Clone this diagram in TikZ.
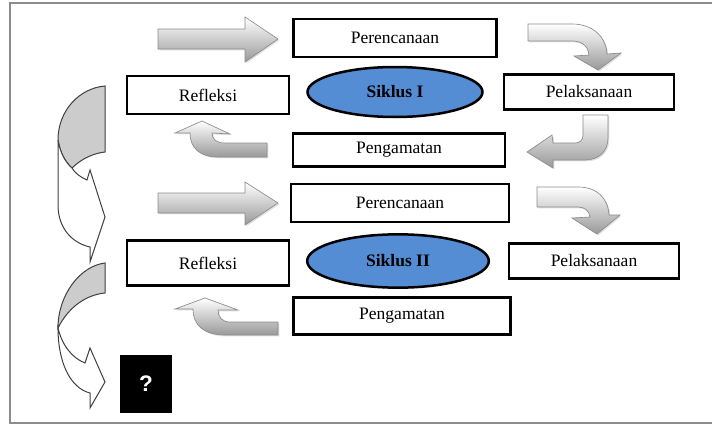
\documentclass[tikz,border=0pt]{standalone}
\usepackage{fontspec}
\setmainfont{Liberation Serif}
\newfontfamily\qfont{Liberation Sans}
\usepackage{tikz}
\usetikzlibrary{shapes.geometric,shadows}
\definecolor{sikblue}{RGB}{84,141,212}

\begin{document}
\begin{tikzpicture}[x=0.6pt,y=-0.6pt,
	box/.style={draw,line width=1.5pt,inner sep=0pt,font=\fontsize{10.5}{12}\selectfont},
	siklus/.style={ellipse,draw,line width=1.5pt,fill=sikblue,inner sep=0pt,font=\fontsize{10.5}{12}\selectfont\bfseries},
	blockarr/.style={top color=white,bottom color=black!40,draw=black!45,line width=0.4pt,
		drop shadow={opacity=0.25,shadow xshift=0.8pt,shadow yshift=-0.8pt}},
	backarr/.style={draw=black!75,line width=0.6pt,fill=black!20},
	frontarr/.style={draw=black!75,line width=0.6pt,fill=white}]
	\useasboundingbox (0,0) rectangle (712,425);
	
	%frame
	\draw[black!45,line width=1pt] (712,3)--(10,3)--(10,423)--(712,423);
	
	%siklus I
	\node[box,minimum width=122pt,minimum height=23pt] (per1) at (395,38)  {Perencanaan};
	\node[box,minimum width=97pt,minimum height=23pt]  (ref1) at (208,95)  {Refleksi};
	\node[siklus,minimum width=105pt,minimum height=30pt] (sik1) at (395,92) {Siklus I};
	\node[box,minimum width=102pt,minimum height=21pt] (pel1) at (589,92)  {Pelaksanaan};
	\node[box,minimum width=127pt,minimum height=20pt] (pen1) at (399,150) {Pengamatan};
	
	%siklus II
	\node[box,minimum width=131pt,minimum height=23pt] (per2) at (400,203) {Perencanaan};
	\node[box,minimum width=97pt,minimum height=27pt]  (ref2) at (208,263) {Refleksi};
	\node[siklus,minimum width=109pt,minimum height=32pt] (sik2) at (398,261) {Siklus II};
	\node[box,minimum width=102pt,minimum height=21pt] (pel2) at (594,261) {Pelaksanaan};
	\node[box,minimum width=130pt,minimum height=22pt] (pen2) at (402,316) {Pengamatan};
	
	%next cycle
	\node[fill=black,minimum width=31pt,minimum height=35pt,text=white,font=\qfont\bfseries\fontsize{13.5}{15}\selectfont] (q) at (146,384) {?};
	
	%straight arrows
	\draw[blockarr] (158,29)--(245,29)--(245,17)--(278,39)--(245,62)--(245,49)--(158,49)--cycle;		%to per1
	\draw[blockarr] (158,193)--(245,193)--(245,182)--(278,203)--(245,225)--(245,213)--(158,213)--cycle;	%to per2
	
	%curved arrows, siklus I
	\draw[blockarr] (528,24)--(572,24) .. controls (592,24) and (606,36) .. (607,54)--(621,53)--(598,70)--(574,56)--(589,55)
		.. controls (588,46) and (582,41) .. (572,41)--(528,41)--cycle;		%per1 to pel1
	\draw[blockarr] (583,115)--(608,115)--(608,138) .. controls (608,152) and (598,160) .. (585,160)--(553,160)--(553,168)--(527,152)
		--(552,135)--(553,143)--(575,143) .. controls (580,143) and (583,140) .. (583,135)--cycle;	%pel1 to pen1
	\draw[blockarr] (267,143)--(225,143) .. controls (216,143) and (212,139) .. (212,133)--(230,134)--(202,121)--(175,133)--(190,133)
		.. controls (190,148) and (200,157) .. (218,157)--(267,157)--cycle;	%pen1 to ref1
	
	%curved arrows, siklus II
	\draw[blockarr] (537,187)--(578,187) .. controls (597,187) and (608,198) .. (609,215)--(620,215)--(597,234)--(572,218)--(590,217)
		.. controls (589,211) and (585,207) .. (578,207)--(537,207)--cycle;	%per2 to pel2
	\draw[blockarr] (278,322)--(230,322) .. controls (222,322) and (218,317) .. (218,310)--(238,310)--(205,298)--(175,309)--(193,309)
		.. controls (193,326) and (205,335) .. (225,335)--(278,335)--cycle;	%pen2 to ref2
	
	%left arrows
	\draw[backarr] (105,86) .. controls (80,88) and (58,110) .. (58,140) .. controls (60,152) and (65,162) .. (72,168)
		.. controls (82,158) and (95,153) .. (105,152)--cycle;		%upper, back
	\draw[frontarr] (58,140)--(58,205) .. controls (58,228) and (72,243) .. (90,247)--(90,262)--(105,217)--(90,170)--(87,180)
		.. controls (80,177) and (75,173) .. (72,168) .. controls (65,162) and (60,152) .. (58,140)--cycle;	%upper, front
	\draw[backarr] (105,263) .. controls (80,266) and (58,295) .. (58,328) .. controls (68,308) and (85,295) .. (105,293)--cycle;	%lower, back
	\draw[frontarr] (58,328) .. controls (58,362) and (70,388) .. (90,393)--(90,408)--(105,382)--(90,348)--(85,363)
		.. controls (72,358) and (62,345) .. (58,328)--cycle;		%lower, front
\end{tikzpicture}
\end{document}
